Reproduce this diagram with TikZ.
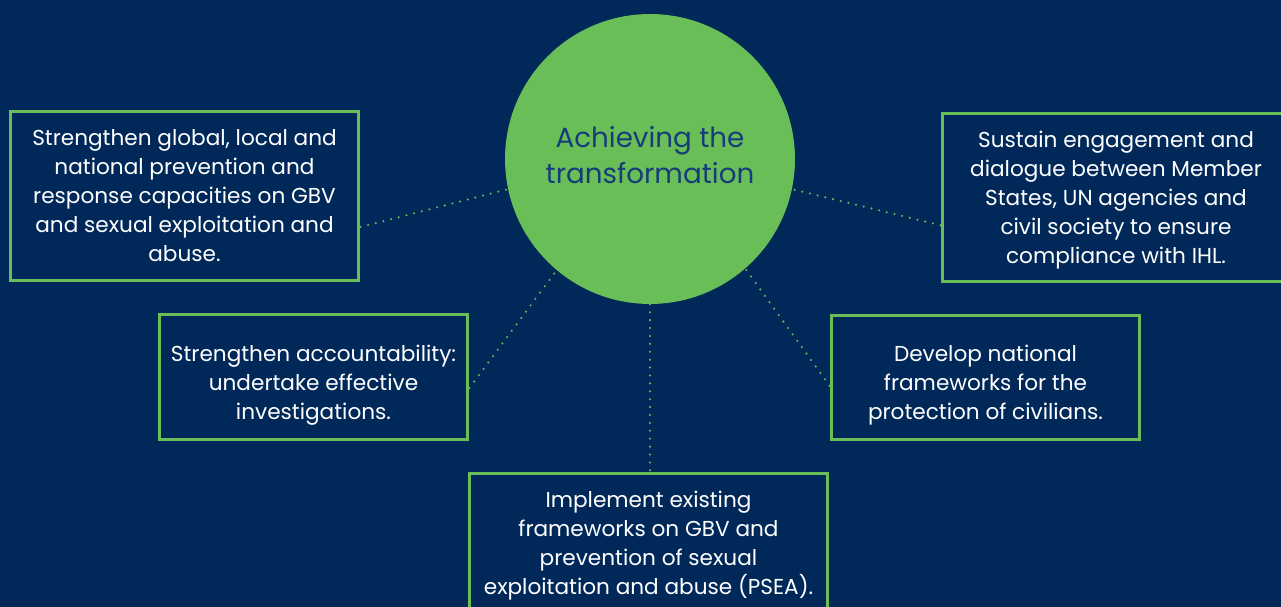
\documentclass[tikz,border=0pt]{standalone}
\usepackage{fontspec}
\setmainfont{Poppins}
\definecolor{navyblue}{RGB}{0,41,90}
\definecolor{leafgreen}{RGB}{106,190,87}
\definecolor{inkblue}{RGB}{22,60,122}

\begin{document}
\begin{tikzpicture}[
        x=0.02cm, y=-0.02cm,
        hub/.style={circle, fill=leafgreen, minimum size=5.8cm, inner sep=0pt,
        	text=inkblue, align=center, text depth=0.16cm,
        	font={\fontsize{15.8}{20.5}\selectfont}},
        action/.style={draw=leafgreen, line width=1.7pt, text=white, align=center,
        	inner sep=0pt, font={\fontsize{12.3}{16.5}\selectfont}},
        lowered/.style={text height=#1, text depth=0pt},
        link/.style={leafgreen, line width=1.3pt, line cap=round,
        	dash pattern=on 0pt off 4.5pt}
    ]

    %Background
    \useasboundingbox (0,0) rectangle (1281,607);
    \fill[navyblue] (0,0) rectangle (1281,607);
    \clip (0,0) rectangle (1281,607);

    %Central circle
    \node[hub] (hub) at (650,159) {Achieving the\\transformation};

    %Action boxes
    \node[action, minimum width=6.98cm, minimum height=3.4cm] (prevent) at (184.5,196)
        {Strengthen global, local and\\national prevention and\\response capacities on GBV\\and sexual exploitation and\\abuse.};
    \node[action, minimum width=6.96cm, minimum height=3.38cm, text depth=0pt] (dialogue) at (1116,197.5)
        {Sustain engagement and\\dialogue between Member\\States, UN agencies and\\civil society to ensure\\compliance with IHL.};
    \node[action, lowered=48pt, minimum width=6.18cm, minimum height=2.52cm] (account) at (313.5,377)
        {Strengthen accountability:\\undertake effective\\investigations.};
    \node[action, lowered=48pt, minimum width=6.18cm, minimum height=2.5cm] (national) at (985.5,377.5)
        {Develop national\\frameworks for the\\protection of civilians.};
    \node[action, minimum width=7.18cm, minimum height=2.8cm, text depth=0pt] (implement) at (648.5,543)
        {Implement existing\\frameworks on GBV and\\prevention of sexual\\exploitation and abuse (PSEA).};

    %Dotted links
    \draw[link] (prevent.-10) -- (hub.192);
    \draw[link] (dialogue.189) -- (hub.-12);
    \draw[link] (account.-4) -- (hub.230);
    \draw[link] (national.183.5) -- (hub.-49);
    \draw[link] (hub.south) -- (hub.south |- implement.north);
\end{tikzpicture}
\end{document}
